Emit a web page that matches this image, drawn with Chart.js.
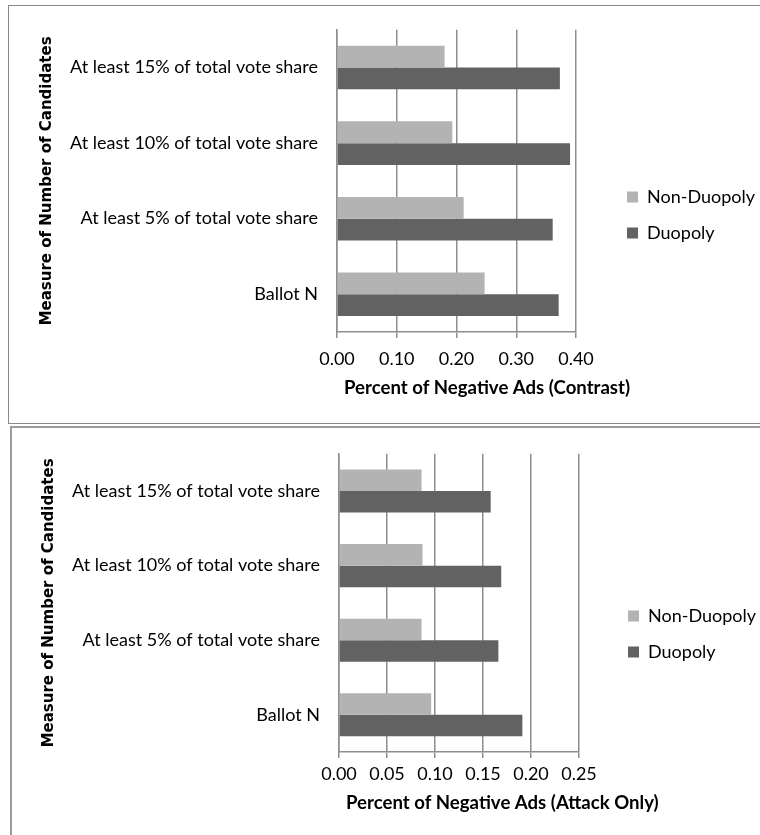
<!DOCTYPE html>
<html>
<head>
<meta charset="utf-8">
<script src="https://cdn.jsdelivr.net/npm/chart.js@4.4.1/dist/chart.umd.min.js"></script>
<style>
  html, body { margin: 0; padding: 0; background: #fff; width: 760px; height: 835px; overflow: hidden; position: relative; }
  .frame { position: absolute; box-sizing: border-box; background: #fff; }
  #frameTop { left: 8px; top: 5px; width: 800px; height: 419px; border: 1px solid #8a8a8a; }
  #frameBottom { left: 10px; top: 426px; width: 800px; height: 500px; border: 2px solid #9a9a9a; }
  canvas { position: absolute; left: 0; }
  #contrastChart { top: 0; }
  #attackChart { top: 424px; }
</style>
</head>
<body>
<div class="frame" id="frameTop"></div>
<div class="frame" id="frameBottom"></div>
<canvas id="contrastChart" width="800" height="424"></canvas>
<canvas id="attackChart" width="800" height="411"></canvas>
<script>
// Categories, listed top to bottom
const categories = [
  'At least 15% of total vote share',
  'At least 10% of total vote share',
  'At least 5% of total vote share',
  'Ballot N'
];
const seriesNames = ['Non-Duopoly', 'Duopoly'];

// Share of negative ads: contrast ads
const contrastNonDuopoly = [0.180, 0.193, 0.212, 0.247];
const contrastDuopoly    = [0.373, 0.390, 0.361, 0.371];
const contrastTicks      = [0.00, 0.10, 0.20, 0.30, 0.40];

// Share of negative ads: attack ads only
const attackNonDuopoly = [0.086, 0.087, 0.086, 0.096];
const attackDuopoly    = [0.158, 0.169, 0.166, 0.191];
const attackTicks      = [0.00, 0.05, 0.10, 0.15, 0.20, 0.25];

const yTitle = 'Measure of Number of Candidates';
const contrastTitle = 'Percent of Negative Ads (Contrast)';
const attackTitle = 'Percent of Negative Ads (Attack Only)';

const LIGHT = '#b3b3b3';
const DARK = '#626262';
const GRID = '#8e8e8e';
const TEXT = '#000';
const labelFont = { family: 'Lato', size: 18 };
const LEGEND_PAD = 18;
const LEGEND_BOX = 11;

// width of the widest legend entry text, so the legend box can be sized to hold it
function legendTextWidth() {
  const ctx = document.createElement('canvas').getContext('2d');
  ctx.font = labelFont.size + 'px ' + labelFont.family;
  return Math.max(...seriesNames.map(s => ctx.measureText(s).width));
}

// x-axis title, drawn at its natural width below the tick labels
const xTitlePlugin = {
  id: 'xTitle',
  afterDraw(chart, _args, opts) {
    const xs = chart.scales.x;
    const ctx = chart.ctx;
    ctx.save();
    ctx.font = 'bold 18.6px Lato';
    ctx.fillStyle = TEXT;
    ctx.textAlign = 'left';
    ctx.textBaseline = 'middle';
    ctx.fillText(opts.text, xs.left + opts.dx, xs.bottom - opts.dy);
    ctx.restore();
  }
};

function buildChart(canvasId, nonDuo, duo, ticks, xTitle, lay) {
  const canvas = document.getElementById(canvasId);
  const legendWidth = Math.ceil(LEGEND_PAD + LEGEND_BOX + labelFont.size / 2 + legendTextWidth() + 6);
  const padRight = canvas.width - lay.legendLeft - legendWidth;
  const legendGap = lay.legendLeft - lay.plotRight;

  return new Chart(canvas, {
    type: 'bar',
    plugins: [xTitlePlugin],
    data: {
      labels: categories,
      datasets: [
        { label: seriesNames[0], data: nonDuo, backgroundColor: LIGHT, borderWidth: 0,
          categoryPercentage: 0.577, barPercentage: 1, yAxisID: 'y', xAxisID: 'x' },
        { label: seriesNames[1], data: duo, backgroundColor: DARK, borderWidth: 0,
          categoryPercentage: 0.577, barPercentage: 1, yAxisID: 'y', xAxisID: 'x' }
      ]
    },
    options: {
      indexAxis: 'y',
      responsive: false,
      animation: false,
      events: [],
      layout: { padding: { top: lay.padTop, right: padRight, bottom: lay.padBottom, left: 0 } },
      plugins: {
        tooltip: { enabled: false },
        xTitle: { text: xTitle, dx: lay.xTitleDx, dy: lay.xTitleDy },
        legend: {
          position: 'right',
          align: 'center',
          maxWidth: legendWidth,
          labels: { font: labelFont, color: TEXT, boxWidth: LEGEND_BOX, boxHeight: LEGEND_BOX, padding: LEGEND_PAD }
        }
      },
      scales: {
        y: {
          type: 'category',
          position: 'left',
          grid: { display: false, drawTicks: false },
          border: { display: true, color: GRID, width: 1.5 },
          ticks: { font: labelFont, color: TEXT, padding: 19 },
          title: {
            display: true, text: yTitle, color: TEXT,
            font: { family: 'DejaVu Sans', weight: 'bold', size: 15 },
            padding: { top: lay.yTitlePad, bottom: 0 }
          },
          afterFit(s) { s.width = lay.plotLeft; }
        },
        // empty band between the plot and the legend
        gap: {
          type: 'category',
          axis: 'y',
          position: 'right',
          grid: { display: false, drawTicks: false },
          border: { display: false },
          ticks: { display: false },
          afterFit(s) { s.width = legendGap; }
        },
        x: {
          type: 'linear',
          position: 'bottom',
          min: ticks[0],
          max: ticks[ticks.length - 1],
          grid: { color: GRID, tickColor: GRID, lineWidth: 1.5, tickLength: 6 },
          border: { display: true, color: GRID, width: 1.5 },
          afterBuildTicks(s) { s.ticks = ticks.map(v => ({ value: v })); },
          ticks: { font: labelFont, color: TEXT, padding: lay.tickPad, maxRotation: 0,
                   callback: v => Number(v).toFixed(2) },
          title: { display: false },
          afterFit(s) { s.height = lay.xAxisHeight; }
        }
      }
    }
  });
}

buildChart('contrastChart', contrastNonDuopoly, contrastDuopoly, contrastTicks, contrastTitle, {
  padTop: 27, padBottom: 21,
  plotLeft: 337, plotRight: 576, legendLeft: 609, xAxisHeight: 71,
  tickPad: 10, xTitleDx: 7, xTitleDy: 15, yTitlePad: 38
});

buildChart('attackChart', attackNonDuopoly, attackDuopoly, attackTicks, attackTitle, {
  padTop: 24, padBottom: 15,
  plotLeft: 339, plotRight: 579, legendLeft: 610, xAxisHeight: 68,
  tickPad: 5, xTitleDx: 7, xTitleDy: 17, yTitlePad: 40
});
</script>
</body>
</html>
